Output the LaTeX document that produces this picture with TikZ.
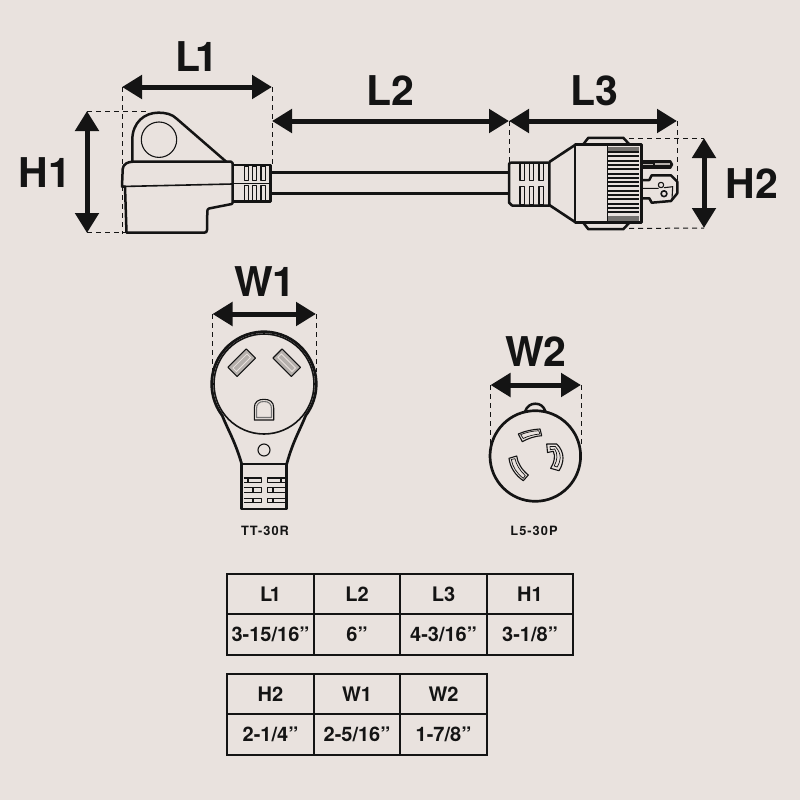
\documentclass[tikz,border=0pt]{standalone}
\usepackage{fontspec}
\setmainfont{TeX Gyre Heros}
\newfontfamily\spacedfont[LetterSpace=8]{TeX Gyre Heros}
\usetikzlibrary{arrows.meta}
\definecolor{bgc}{HTML}{E9E2DE}
\definecolor{ink}{HTML}{141414}
\definecolor{bladeg}{HTML}{B5B0AC}
\tikzset{
  dimarrow/.style={draw=ink,line width=5pt,{Triangle[length=20pt,width=23pt]}-{Triangle[length=20pt,width=23pt]}},
  dimline/.style={draw=ink,line width=1pt,dash pattern=on 5pt off 4pt},
  outl/.style={draw=ink,line width=2.5pt,line join=round},
  midl/.style={draw=ink,line width=1.6pt,line join=round},
  thin1/.style={draw=ink,line width=1.1pt,line join=round},
  hair/.style={draw=ink,line width=0.7pt,line join=round},
  biglabel/.style={font=\fontsize{41}{41}\selectfont\bfseries,text=ink,inner sep=0pt},
  smalllabel/.style={font=\fontsize{12.8}{13}\selectfont\spacedfont\bfseries,text=ink,inner sep=0pt},
  cell/.style={draw=ink,line width=2pt,minimum width=86.5pt,minimum height=40.5pt,inner sep=0pt,font=\fontsize{20}{20}\selectfont\bfseries,text=ink},
}
\begin{document}
\begin{tikzpicture}[x=1pt,y=1pt,yscale=-1]
\path[use as bounding box,fill=bgc] (0,0) rectangle (800,800);

% ---- dimension end points
\coordinate (l1a) at (122,87); \coordinate (l1b) at (272,87);
\coordinate (l2a) at (272,121); \coordinate (l2b) at (509,121);
\coordinate (l3a) at (509,121); \coordinate (l3b) at (677,121);
\coordinate (h1a) at (87,111); \coordinate (h1b) at (87,233);
\coordinate (h2a) at (704,138); \coordinate (h2b) at (704,228);
\coordinate (w1a) at (212.5,314); \coordinate (w1b) at (316,314);
\coordinate (w2a) at (490.5,385); \coordinate (w2b) at (581,385);

% ---- dashed guides
\draw[dimline] (l1a) -- (122,234);
\draw[dimline] (l1b) -- (272,165);
\draw[dimline] (87,111.5) -- (147,111.5);
\draw[dimline] (87,232.7) -- (126,232.7);
\draw[dimline] (l3a) -- (509,162);
\draw[dimline] (l3b) -- (677,182);
\draw[dimline] (629,138) -- (h2a);
\draw[dimline] (629,228.5) -- (h2b);
\draw[dimline] (w1a) -- (212.5,372);
\draw[dimline] (w1b) -- (316,372);
\draw[dimline] (w2a) -- (490.5,444);
\draw[dimline] (w2b) -- (581,444);

% ---- dimension arrows
\draw[dimarrow] (l1a) -- (l1b);
\draw[dimarrow] (l2a) -- (l2b);
\draw[dimarrow] (l3a) -- (l3b);
\draw[dimarrow] (h1a) -- (h1b);
\draw[dimarrow] (h2a) -- (h2b);
\draw[dimarrow] (w1a) -- (w1b);
\draw[dimarrow] (w2a) -- (w2b);

% ---- labels
\node[biglabel] (tl1) at (197,57) {L\kern-.12em 1};
\node[biglabel] (tl2) at (390,91) {L2};
\node[biglabel] (tl3) at (594,91) {L3};
\node[biglabel] (th1) at (45,173) {H1};
\node[biglabel] (th2) at (752,184) {H2};
\node[biglabel] (tw1) at (265,282) {W1};
\node[biglabel] (tw2) at (536,352) {W2};
\node[smalllabel] (tt) at (265,531) {TT-30R};
\node[smalllabel] (tp) at (534,531) {L5-30P};

% ---- cable
\draw[outl] (270.7,172.5) -- (509,172.5);
\draw[outl] (270.7,193.7) -- (509,193.7);

% ---- left plug (side)
\draw[outl] (132.3,161.7) -- (132.3,140)
  .. controls (132.3,122) and (145,112.7) .. (158,112.7)
  .. controls (166,112.7) and (172,114) .. (177,119) -- (226,161.5);
\draw[thin1] (159,139.7) circle (17.7);
\draw[outl] (122,186.5) -- (122.7,169) .. controls (123,164) and (128,161.7) .. (133,161.7)
  -- (231,161.7) -- (232.5,163) -- (232.5,203) -- (231.7,204) -- (209,208.5) .. controls (207.5,209) and (207.3,210) .. (207.3,212)
  -- (207,230) .. controls (207,232) and (206,232.7) .. (204,232.7) -- (126.5,232.7) -- (125,186.5) -- cycle;
\draw[midl] (122,186.5) -- (232.5,184);
% relief
\draw[outl] (232.5,165) -- (270.7,165) -- (270.7,201.7) -- (232.5,201.7);
\draw[thin1] (232.5,183.7) -- (270.7,183.7);
\foreach \xa/\xb in {244.3/248.3,252.7/256.7,261/265.7}{
  \draw[thin1] (\xa,166) rectangle (\xb,180.7);
  \draw[thin1] (\xa,185.7) rectangle (\xb,201);
}

% ---- right plug (side)
\draw[outl] (509,164.5) .. controls (509,163) and (510,162.5) .. (512,162.5) -- (549.3,162.5)
  -- (549.3,205.5) -- (512,205.5) -- (509,202.5) -- cycle;
\foreach \xa/\xb in {520/524.3,529.3/533.7,539/543.3}{
  \draw[thin1] (\xa,163.3) rectangle (\xb,180.7);
  \draw[thin1] (\xa,186.7) rectangle (\xb,204.5);
}
\draw[outl,line width=2.6pt] (549.3,162) -- (575,145);
\draw[outl,line width=2.6pt] (549.3,205) -- (575,222);
\draw[outl] (583.3,144.3) -- (588.3,137.8) -- (623.3,137.8) -- (629.3,144.3);
\draw[outl] (583.3,222.7) -- (588.3,229.2) -- (623.3,229.2) -- (629.3,222.7);
\fill[bladeg!60!ink] (607.5,146.5) rectangle (638.5,151.5);
\fill[bladeg!60!ink] (607.5,216) rectangle (638.5,220.5);
\foreach \yy in {152,156.3,...,216}{
  \draw[draw=ink,line width=2pt] (607.5,\yy) -- (638.5,\yy);
}
\draw[outl,line width=2.8pt] (575,144.5) rectangle (641.7,222.5);
\draw[thin1] (607.5,144.5) -- (607.5,222.5);
% blades
\draw[midl,fill=ink] (641.7,161) -- (670.5,161) -- (672.5,164.5) -- (670.5,168) -- (641.7,168) -- cycle;
\fill[bladeg] (643,164) rectangle (653,165);
\fill[bladeg] (655,163) rectangle (670,165);
\draw[outl] (641,180) -- (649.3,180) -- (651.7,175.3) -- (671,175.3) -- (677.3,181.7) -- (677.3,193.3) -- (671,201) -- (651.7,202.7) -- (649.3,198.3) -- (641,198.3);
\draw[thin1] (641,188.3) -- (658.5,188.3) (664,187.7) -- (672.7,186.7) -- (672,199);
\draw[thin1] (661,185) circle (2.7);
\draw[midl] (664,193.7) circle (2.9);

% ---- TT-30R face
\draw[outl,line width=2.7pt] (241.7,464) .. controls (235,441) and (228,430) .. (222.2,415.5)
  arc[start angle=143,end angle=397,radius=52.3]
  .. controls (300,430) and (293,441) .. (286.7,464);
\draw[midl] (264,384) circle (50);
\draw[outl] (241.7,464) rectangle (286.7,509);
\draw[thin1] (264,450) circle (6);
\draw[thin1] (254.3,420) -- (254.3,408) .. controls (254.3,402) and (258,399.3) .. (264,399.3) .. controls (270,399.3) and (273.7,402) .. (273.7,408) -- (273.7,420) -- cycle;
\draw[thin1,draw=ink!60] (256.5,417.5) -- (256.5,409) .. controls (256.5,404) and (259,401.5) .. (264,401.5) .. controls (269,401.5) and (271.5,404) .. (271.5,409) -- (271.5,417.5) -- cycle;
\begin{scope}[shift={(241.7,362.7)},rotate=-45]
  \draw[thin1,fill=bladeg] (-13,-6.5) rectangle (13,6.5);
  \draw[draw=bgc,line width=0.8pt] (-10,-2.5) rectangle (10,2.5);
\end{scope}
\begin{scope}[shift={(286.7,362.7)},rotate=45]
  \draw[thin1,fill=bladeg] (-13,-6.5) rectangle (13,6.5);
  \draw[draw=bgc,line width=0.8pt] (-10,-2.5) rectangle (10,2.5);
\end{scope}
\foreach \ya/\yb/\ta/\tb in {478/482.7/248/281,487.7/492.3/253/273,498.3/502.7/253/273}{
  \draw[thin1] (243.5,\ya) -- (261.7,\ya) -- (261.7,\yb) -- (243.5,\yb);
  \draw[thin1] (285,\ya) -- (267.3,\ya) -- (267.3,\yb) -- (285,\yb);
  \draw[thin1] (\ta,\ya) -- (\ta,\yb);
  \draw[thin1] (\tb,\ya) -- (\tb,\yb);
}

% ---- L5-30P face
\draw[outl,line width=2.7pt] (535.3,456) circle (45.3);
\draw[outl] (525,411.5) .. controls (527,406) and (531,403.7) .. (535.3,403.7) .. controls (540,403.7) and (543.5,406) .. (545.5,411.5);
% upper slot
\draw[thin1] (518.3,434) .. controls (525,431) and (532,429.5) .. (540,429) -- (541.7,435.7) .. controls (535,436) and (528,438.5) .. (522.3,441.7) -- cycle;
\draw[hair] (520.7,434.6) .. controls (526,432.5) and (532,431) .. (538.7,430.7) -- (540,434) .. controls (534,434.5) and (528,436) .. (523.3,438.5) -- cycle;
% right slot with hook
\draw[thin1] (546.7,444) -- (556.7,444) .. controls (561,448) and (563,453) .. (563,458) .. controls (563,462) and (561.5,467) .. (559,470.7) -- (550.7,468.3) .. controls (554.5,462) and (555.5,456) .. (553.3,451.3) -- (547.5,452.5) -- cycle;
\draw[hair] (550,446.5) -- (555.3,446.5) .. controls (558.5,450) and (560.5,454) .. (560.2,458) .. controls (560,461) and (559,464) .. (557.3,467) -- (554.2,466) .. controls (557.5,460) and (558,454) .. (554.7,449) -- (550.3,449.7) -- cycle;
% lower left slot
\draw[thin1] (509,458.3) -- (516.7,456) .. controls (517.5,463) and (522,470) .. (528.3,475) -- (523.3,480.7) .. controls (515,475) and (510,467) .. (509,458.3) -- cycle;
\draw[hair] (511.3,459.4) -- (515,458.7) .. controls (516,464) and (520,471) .. (525.3,475.6) -- (523.3,478.3) .. controls (517,473.5) and (512.5,467) .. (511.3,459.4) -- cycle;

% ---- tables
\node[cell] (a1) at (270.5,594) {L\kern-.12em 1};
\node[cell] (a2) at (357,594) {L2};
\node[cell] (a3) at (443.5,594) {L3};
\node[cell] (a4) at (530,594) {H1};
\node[cell] (b1) at (270.5,634.5) {3-15/16”};
\node[cell] (b2) at (357,634.5) {6”};
\node[cell] (b3) at (443.5,634.5) {4-3/16”};
\node[cell] (b4) at (530,634.5) {3-1/8”};
\node[cell] (c1) at (270.5,694) {H2};
\node[cell] (c2) at (357,694) {W1};
\node[cell] (c3) at (443.5,694) {W2};
\node[cell] (d1) at (270.5,734.5) {2-1/4”};
\node[cell] (d2) at (357,734.5) {2-5/16”};
\node[cell] (d3) at (443.5,734.5) {1-7/8”};
\end{tikzpicture}
\end{document}
